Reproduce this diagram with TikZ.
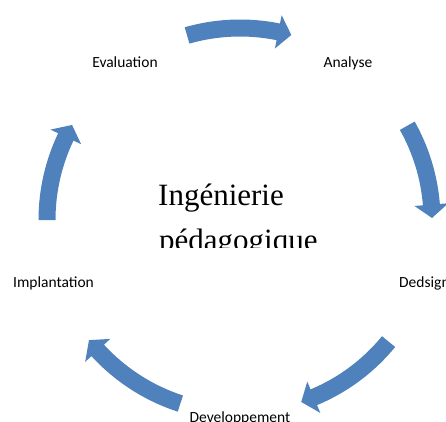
\documentclass[tikz,border=0pt]{standalone}
\usepackage{fontspec}
\setmainfont{Liberation Serif}
\newfontfamily\labelfont{Carlito}
\definecolor{cycleblue}{HTML}{4F81BD}

% curved block arrow on a circle around (240,201):
% #1 tail angle, #2 tip angle, #3 radius of the centre line
\newcommand\cyclearrow[3]{%
  \fill[cycleblue, shift={(240,201)}]
    (#1:{#3+8.5}) arc[start angle=#1, end angle={#2+4}, radius={#3+8.5}]
    -- ({#2+4}:{#3+17}) -- (#2:#3) -- ({#2+4}:{#3-17})
    -- ({#2+4}:{#3-8.5}) arc[start angle={#2+4}, end angle=#1, radius={#3-8.5}]
    -- cycle;}

\begin{document}
\begin{tikzpicture}[x=1pt, y=1pt,
  steplabel/.style={inner sep=0pt, anchor=base, font=\labelfont\fontsize{15.5}{18}\selectfont},
  titletext/.style={inner sep=0pt, anchor=base west, font=\fontsize{31}{36}\selectfont}]
  \clip (0,0) rectangle (446,421);

  % cycle arrows, clockwise
  \cyclearrow{106}{74.5}{192}
  \cyclearrow{29.4}{0.6}{192}
  \cyclearrow{-39.3}{-71.4}{192}
  \cyclearrow{-108}{-141.5}{193}
  \cyclearrow{180}{150.5}{193}

  % step labels
  \node[steplabel] (eval) at (125,353) {Evaluation};
  \node[steplabel] (anal) at (348,353) {Analyse};
  \node[steplabel, anchor=base west] (design) at (399,134) {Dedsign};
  \node[steplabel, anchor=base west] (impl) at (13,134) {Implantation};
  \node[steplabel] (dev) at (240,-1) {Developpement};

  % central title, cut off below
  \begin{scope}
    \clip (140,174) rectangle (340,240);
    \node[titletext] (title1) at (158,216) {Ingénierie};
    \node[titletext] (title2) at (159,171) {pédagogique};
  \end{scope}
\end{tikzpicture}
\end{document}
